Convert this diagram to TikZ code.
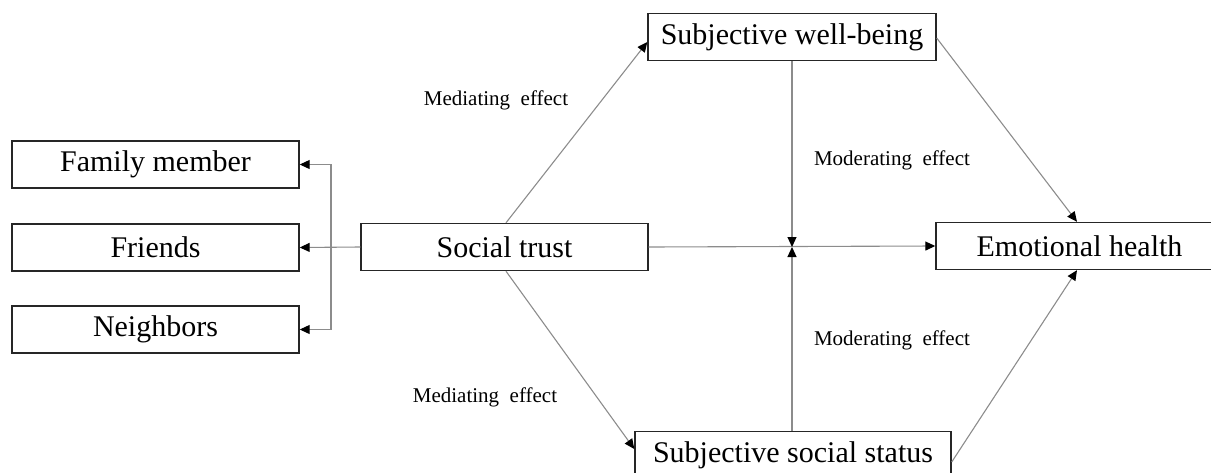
\documentclass[tikz,border=0pt]{standalone}
\usepackage{fontspec}
\setmainfont{Liberation Serif}
\usetikzlibrary{arrows.meta,calc}
\tikzset{
  box/.style={draw=black!85, line width=1.4pt, fill=white, minimum height=47pt, inner sep=0pt,
              font=\fontsize{30}{34}\selectfont},
  conn/.style={draw=black!45, line width=1.1pt},
  arr/.style={conn, -{Triangle[length=10pt,width=9pt,color=black]}},
  lab/.style={font=\fontsize{21}{24}\selectfont, inner sep=0pt}
}
\begin{document}
\begin{tikzpicture}[x=1pt,y=-1pt]
\useasboundingbox (0,0) rectangle (1211,472);
\clip (0,0) rectangle (1211,472);
% nodes
\node[box, minimum width=287pt] (fam) at (155.5,164.5) {Family member};
\node[box, minimum width=287pt] (fri) at (155.5,247.5) {Friends};
\node[box, minimum width=287pt] (nei) at (155.5,329.5) {Neighbors};
\node[box, minimum width=287pt] (st)  at (504.5,247) {Social trust};
\node[box, minimum width=288pt] (swb) at (792,37) {Subjective well-being};
\node[box, minimum width=287pt] (eh)  at (1079.5,246) {Emotional health};
\node[box, minimum width=316pt] (sss) at (793,455) {Subjective social status};
% labels
\node[lab] (l1) at (496,100) {Mediating\hspace{0.5em}effect};
\node[lab] (l2) at (485,397) {Mediating\hspace{0.5em}effect};
\node[lab] (l3) at (892,160) {Moderating\hspace{0.5em}effect};
\node[lab] (l4) at (892,340) {Moderating\hspace{0.5em}effect};
% connectors left
\coordinate (j) at (331,247.5);
\draw[arr] (st.west) -- (fri.east);
\draw[arr] (j) |- (fam.east);
\draw[arr] (j) |- (nei.east);
% mediating
\draw[arr] ([xshift=1.5pt]st.north) -- ([yshift=-5pt]swb.west);
\draw[arr] ([xshift=1.5pt]st.south) -- ([yshift=6pt]sss.west);
% to outcome
\draw[arr] (st.east) -- (eh.west);
\draw[arr] ([yshift=-1pt]swb.east) -- ([xshift=-2.5pt]eh.north);
\draw[arr] ([yshift=-7pt]sss.east) -- ([xshift=-2.5pt]eh.south);
% moderating
\coordinate (m) at (792,247);
\draw[arr] (swb.south) -- (m);
\draw[arr] (sss.north -| m) -- (m);
\end{tikzpicture}
\end{document}
